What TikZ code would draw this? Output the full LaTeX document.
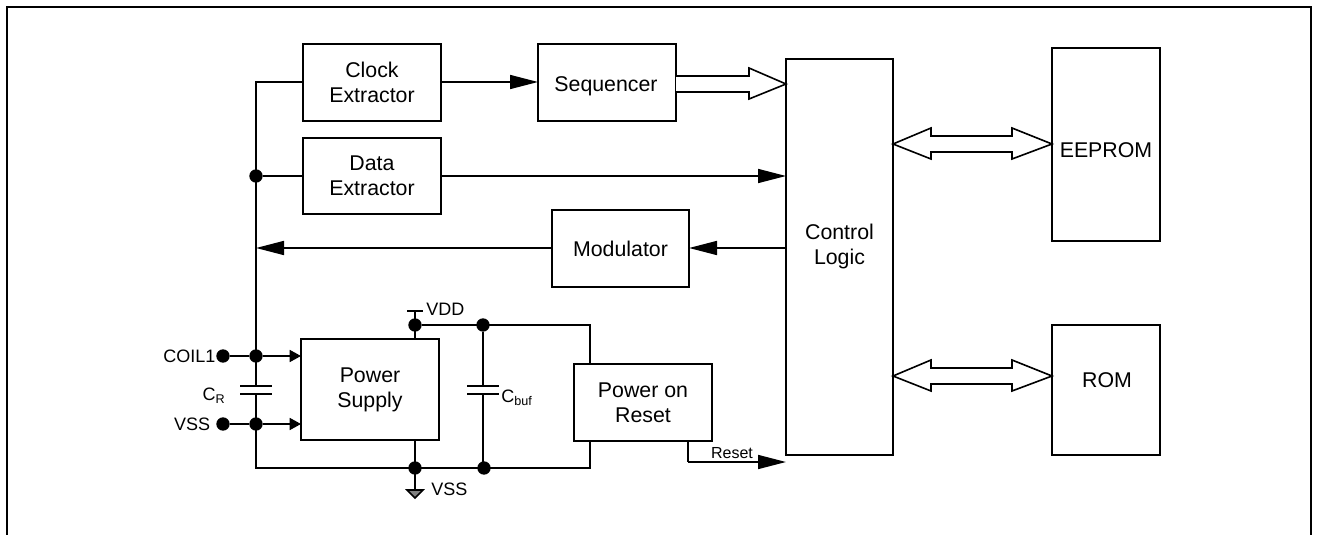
\documentclass[tikz,border=0pt]{standalone}
\usepackage{fontspec}
\setmainfont{Liberation Sans}
\usetikzlibrary{arrows.meta, positioning, calc}
\tikzstyle{block} = [rectangle, draw, line width=1.2pt, outer sep=0pt, text centered, align=center, inner sep=0pt, font=\fontsize{16}{18.75}\selectfont]
\tikzstyle{blocktext} = [inner sep=0pt, align=center, font=\fontsize{16}{18.75}\selectfont]
\tikzstyle{wire} = [line width=1.2pt]
\tikzstyle{sig} = [line width=1.2pt, -{Triangle[length=21pt,width=10.5pt]}]
\tikzstyle{small} = [line width=1.2pt, -{Triangle[length=8.5pt,width=9pt]}]
\tikzstyle{dot} = [circle, fill=black, inner sep=0pt, outer sep=0pt, minimum size=10pt]
\tikzstyle{plate} = [line width=1.2pt]
\tikzstyle{lbl} = [inner sep=0pt, font=\fontsize{13.5}{15}\selectfont]
\tikzstyle{bus} = [line width=1.2pt, fill=white, line join=miter]

\begin{document}
\begin{tikzpicture}[x=0.75pt, y=-0.75pt]
	\useasboundingbox (0,0) rectangle (1318,535);

	% Frame
	\draw[line width=1.6pt] (7,535) -- (7,7) -- (1311,7) -- (1311,535);

	% Blocks
	\node (clock) [block, minimum width=103.5pt, minimum height=57.75pt] at (372,82.5) {Clock\\Extractor};
	\node (seq) [block, minimum width=103.5pt, minimum height=57.75pt] at (607,82.5) {};
	\node (data) [block, minimum width=103.5pt, minimum height=57pt] at (372,176) {Data\\Extractor};
	\node (logic) [block, minimum width=80.25pt, minimum height=297pt] at (839.5,257) {};
	\node (eeprom) [block, minimum width=81pt, minimum height=144.75pt] at (1106,144.5) {};
	\node (rom) [block, minimum width=81pt, minimum height=97.5pt] at (1106,390) {};
	\node (mod) [block, minimum width=102.75pt, minimum height=58pt] at (620.5,248.5) {Modulator};
	\node (psu) [block, minimum width=103.5pt, minimum height=75.75pt] at (370,389.5) {Power\\Supply};
	\node (por) [block, minimum width=103.5pt, minimum height=57.75pt] at (643,402.5) {Power on\\Reset};

	% Block texts off centre
	\node (seq_txt) [blocktext] at (606,86) {Sequencer};
	\node (logic_txt) [blocktext] at (839.5,246) {Control\\Logic};
	\node (eeprom_txt) [blocktext] at (1106,150) {EEPROM};
	\node (rom_txt) [blocktext] at (1107,380) {ROM};

	% Junctions
	\node (j_data) [dot] at (256,176) {};
	\node (j_coil) [dot] at (256,356) {};
	\node (j_vss) [dot] at (256,424) {};
	\node (coil) [dot] at (223,356) {};
	\node (vss) [dot] at (223,424) {};
	\node (j_vdd) [dot] at (415,325) {};
	\node (j_buf) [dot] at (483,325) {};
	\node (j_gnd) [dot] at (415,468) {};
	\node (j_bufb) [dot] at (484,468) {};

	% Free wire ends
	\coordinate (top) at (256,82);
	\coordinate (mod_end) at (256,248);
	\coordinate (bot) at (256,468);
	\coordinate (vdd_top) at (415,311);
	\coordinate (gnd_end) at (415,490);
	\coordinate (por_in) at (590,325);
	\coordinate (por_out) at (590,468);
	\coordinate (rst) at (688,462);

	% Left rail
	\draw[wire] (clock.west |- top) -- (top) -- (mod_end);
	\draw[wire] (mod_end) -- (j_coil.center) -- (256,386);
	\draw[wire] (256,394) -- (j_vss.center) -- (bot) -- (j_gnd.center) -- (j_bufb.center) -- (por_out) -- (por_out |- por.south);
	\draw[wire] (j_data) -- (j_data -| data.west);
	\draw[plate] (240,386) -- (272,386);
	\draw[plate] (240,394) -- (272,394);

	% Inputs to the supply
	\draw[wire] (coil) -- (j_coil);
	\draw[wire] (vss) -- (j_vss);
	\draw[small] (j_coil) -- (j_coil -| psu.west);
	\draw[small] (j_vss) -- (j_vss -| psu.west);

	% VDD and VSS
	\draw[wire] (407,311) -- (423,311);
	\draw[wire] (vdd_top) -- (j_vdd.center) -- (j_vdd |- psu.north);
	\draw[wire] (j_vdd) -- (j_buf.center) -- (por_in) -- (por_in |- por.north);
	\draw[wire] (j_gnd |- psu.south) -- (j_gnd.center) -- (gnd_end);
	\draw[wire, fill=gray] (407,490) -- (423,490) -- (415,498) -- cycle;
	\draw[wire] (j_buf) -- (483,386);
	\draw[wire] (483,394) -- (483,468);
	\draw[plate] (467,386) -- (499,386);
	\draw[plate] (467,394) -- (499,394);

	% Signals
	\draw[sig] (clock.east |- top) -- (top -| seq.west);
	\draw[sig] (data.east |- 0,176) -- (logic.west |- 0,176);
	\draw[sig] (logic.west |- 0,248) -- (mod.east |- 0,248);
	\draw[sig] (mod.west |- 0,248) -- (mod_end);
	\draw[wire] (rst |- por.south) -- (rst);
	\draw[sig] (rst) -- (rst -| logic.west);

	% Buses
	\draw[bus] (seq.east |- 0,76) -- (749,76) -- (749,68) -- (786,84) -- (749,99) -- (749,92) -- (seq.east |- 0,92);
	\draw[bus] (logic.east |- 0,144) -- (931,128) -- (931,136) -- (1012,136) -- (1012,128) -- (eeprom.west |- 0,144) -- (1012,159) -- (1012,152) -- (931,152) -- (931,159) -- cycle;
	\draw[bus] (logic.east |- 0,376) -- (931,360) -- (931,368) -- (1012,368) -- (1012,360) -- (rom.west |- 0,376) -- (1012,391) -- (1012,384) -- (931,384) -- (931,391) -- cycle;

	% Labels
	\node (l_coil) [lbl, left=0.5pt of coil] {COIL1};
	\node (l_vss) [lbl, left=4.5pt of vss] {VSS};
	\node (l_cr) [lbl] at (214,396) {C\textsubscript{R}};
	\node (l_buf) [lbl, anchor=west] at (501,398) {C\textsubscript{buf}};
	\node (l_vdd) [lbl, anchor=west] at (426,309) {VDD};
	\node (l_gnd) [lbl, anchor=west] at (431,489) {VSS};
	\node (l_rst) [lbl, font=\fontsize{12}{14}\selectfont] at (732,453) {Reset};
\end{tikzpicture}
\end{document}
